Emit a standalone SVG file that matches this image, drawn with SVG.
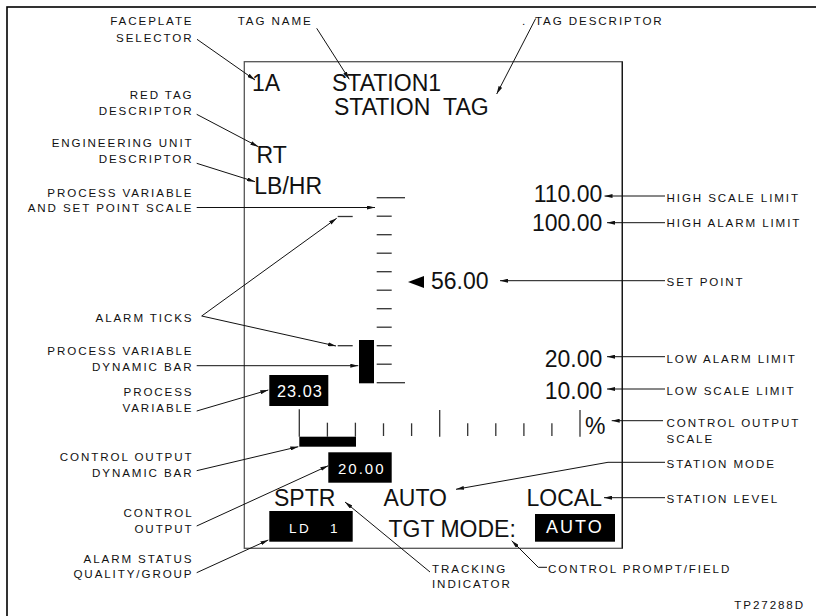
<svg xmlns="http://www.w3.org/2000/svg" width="816" height="616" viewBox="0 0 816 616">
<defs>
<marker id="ah" viewBox="0 0 8 4" refX="8" refY="2" markerWidth="8" markerHeight="4" markerUnits="userSpaceOnUse" orient="auto">
<path d="M0,0 L8,2 L0,4 z" fill="#111"/>
</marker>
<style>
.lbl{font-family:"Liberation Sans",Arial,sans-serif;font-size:11.6px;letter-spacing:1.9px;fill:#111}
.end{text-anchor:end}
.big{font-family:"Liberation Sans",Arial,sans-serif;font-size:23px;fill:#111}
.inv{font-family:"Liberation Sans",Arial,sans-serif;fill:#fff}
.con{fill:none;stroke:#111;stroke-width:1;marker-end:url(#ah)}
.tick{stroke:#333;stroke-width:1.3;fill:none}
.blk{fill:#000}
</style>
</defs>
<rect x="0" y="0" width="816" height="616" fill="#fff"/>
<rect x="7" y="7" width="830" height="630" fill="none" stroke="#000" stroke-width="1.6"/>

<g id="faceplate">
<rect x="244.3" y="61.7" width="378" height="486.6" fill="none" stroke="#555" stroke-width="1.3"/>
<line x1="622.3" y1="61.7" x2="622.3" y2="548.3" stroke="#111" stroke-width="1.2"/>
</g>

<g id="faceplate-selector-value"><text class="big" x="252" y="90.7">1A</text></g>
<g id="tag-name-value"><text class="big" x="332" y="90.7">STATION1</text></g>
<g id="tag-descriptor-value"><text class="big" x="334" y="115">STATION&#160;&#160;TAG</text></g>
<g id="red-tag-value"><text class="big" x="256.5" y="163">RT</text></g>
<g id="eu-value"><text class="big" x="254.3" y="194">LB/HR</text></g>

<g id="pv-scale">
<line class="tick" x1="376.7" y1="197.7" x2="405" y2="197.7"/>
<line class="tick" x1="376.7" y1="216.2" x2="391.7" y2="216.2"/>
<line class="tick" x1="376.7" y1="234.7" x2="391.7" y2="234.7"/>
<line class="tick" x1="376.7" y1="253.2" x2="391.7" y2="253.2"/>
<line class="tick" x1="376.7" y1="271.7" x2="391.7" y2="271.7"/>
<line class="tick" x1="376.7" y1="290.2" x2="391.7" y2="290.2"/>
<line class="tick" x1="376.7" y1="308.7" x2="391.7" y2="308.7"/>
<line class="tick" x1="376.7" y1="327.2" x2="391.7" y2="327.2"/>
<line class="tick" x1="376.7" y1="345.7" x2="391.7" y2="345.7"/>
<line class="tick" x1="376.7" y1="364.2" x2="391.7" y2="364.2"/>
<line class="tick" x1="376.7" y1="382.7" x2="405" y2="382.7"/>
</g>
<g id="alarm-ticks">
<line class="tick" x1="337.7" y1="216.5" x2="352.7" y2="216.5"/>
<line class="tick" x1="337.7" y1="345.7" x2="352.7" y2="345.7"/>
</g>
<g id="pv-bar"><rect class="blk" x="359" y="340" width="15" height="43.3"/></g>

<g id="scale-values">
<text class="big end" x="602.3" y="201.7">110.00</text>
<text class="big end" x="602.3" y="230.7">100.00</text>
<text class="big end" x="602.3" y="366.7">20.00</text>
<text class="big end" x="602.3" y="399">10.00</text>
</g>
<g id="set-point-value">
<polygon points="408,282 424,276 424,288" fill="#000"/>
<text class="big" x="431" y="289">56.00</text>
</g>

<g id="pv-value">
<rect class="blk" x="269.3" y="375" width="59" height="31"/>
<text class="inv" x="277" y="396.7" font-size="16.3" letter-spacing="1">23.03</text>
</g>

<g id="co-scale">
<line class="tick" x1="299.3" y1="409.3" x2="299.3" y2="436.7"/>
<line class="tick" x1="327.4" y1="422.7" x2="327.4" y2="436.7"/>
<line class="tick" x1="355.4" y1="422.7" x2="355.4" y2="436.7"/>
<line class="tick" x1="383.5" y1="423.3" x2="383.5" y2="436"/>
<line class="tick" x1="411.6" y1="423.3" x2="411.6" y2="436"/>
<line class="tick" x1="439.7" y1="410" x2="439.7" y2="436.7"/>
<line class="tick" x1="467.7" y1="423.3" x2="467.7" y2="436"/>
<line class="tick" x1="495.8" y1="423.3" x2="495.8" y2="436"/>
<line class="tick" x1="523.9" y1="423.3" x2="523.9" y2="436"/>
<line class="tick" x1="551.9" y1="423.3" x2="551.9" y2="436"/>
<line class="tick" x1="580" y1="410" x2="580" y2="436.7"/>
<text class="big" x="585" y="434.3">%</text>
</g>
<g id="co-bar"><rect class="blk" x="299.3" y="436.7" width="56.7" height="10"/></g>

<g id="co-value">
<rect class="blk" x="328.3" y="452.3" width="63.4" height="30.4"/>
<text class="inv" x="338" y="474" font-size="15" letter-spacing="2">20.00</text>
</g>

<g id="tracking-value"><text class="big" x="274" y="506">SPTR</text></g>
<g id="mode-value"><text class="big" x="383.5" y="506">AUTO</text></g>
<g id="level-value"><text class="big end" x="602" y="506">LOCAL</text></g>

<g id="alarm-status-value">
<rect class="blk" x="269.3" y="511" width="83.4" height="30.7"/>
<text class="inv" x="289" y="532.7" font-size="13.5" letter-spacing="2.5">LD&#160;&#160;&#160;1</text>
</g>

<g id="control-prompt-value">
<text class="big" x="388.5" y="536.7">TGT MODE:</text>
<rect class="blk" x="535" y="514" width="80" height="27.7"/>
<text class="inv" x="546" y="533.3" font-size="18" letter-spacing="2">AUTO</text>
</g>

<g id="lbl-faceplate-selector"><text class="lbl end" x="193.5" y="25">FACEPLATE</text><text class="lbl end" x="193.5" y="41.7">SELECTOR</text></g>
<g id="lbl-tag-name"><text class="lbl" x="237.7" y="25">TAG NAME</text></g>
<g id="lbl-tag-descriptor"><text class="lbl" x="522" y="25">.</text><text class="lbl" x="535" y="25">TAG DESCRIPTOR</text></g>
<g id="lbl-red-tag"><text class="lbl end" x="193.5" y="99.3">RED TAG</text><text class="lbl end" x="193.5" y="115">DESCRIPTOR</text></g>
<g id="lbl-eu"><text class="lbl end" x="193.5" y="146.7">ENGINEERING UNIT</text><text class="lbl end" x="193.5" y="163">DESCRIPTOR</text></g>
<g id="lbl-pv-scale"><text class="lbl end" x="193.5" y="196.7">PROCESS VARIABLE</text><text class="lbl end" x="193.5" y="212.3">AND SET POINT SCALE</text></g>
<g id="lbl-alarm-ticks"><text class="lbl end" x="193.5" y="321.7">ALARM TICKS</text></g>
<g id="lbl-pv-bar"><text class="lbl end" x="193.5" y="355">PROCESS VARIABLE</text><text class="lbl end" x="193.5" y="370.7">DYNAMIC BAR</text></g>
<g id="lbl-pv"><text class="lbl end" x="193.5" y="395.7">PROCESS</text><text class="lbl end" x="193.5" y="411.7">VARIABLE</text></g>
<g id="lbl-co-bar"><text class="lbl end" x="193.5" y="461">CONTROL OUTPUT</text><text class="lbl end" x="193.5" y="476.7">DYNAMIC BAR</text></g>
<g id="lbl-co"><text class="lbl end" x="193.5" y="517.3">CONTROL</text><text class="lbl end" x="193.5" y="532.7">OUTPUT</text></g>
<g id="lbl-alarm-status"><text class="lbl end" x="193.5" y="563.3">ALARM STATUS</text><text class="lbl end" x="193.5" y="578.3">QUALITY/GROUP</text></g>
<g id="lbl-high-scale"><text class="lbl" x="666.5" y="201.5">HIGH SCALE LIMIT</text></g>
<g id="lbl-high-alarm"><text class="lbl" x="666.5" y="227.3">HIGH ALARM LIMIT</text></g>
<g id="lbl-set-point"><text class="lbl" x="666.5" y="286">SET POINT</text></g>
<g id="lbl-low-alarm"><text class="lbl" x="666.5" y="363.3">LOW ALARM LIMIT</text></g>
<g id="lbl-low-scale"><text class="lbl" x="666.5" y="395">LOW SCALE LIMIT</text></g>
<g id="lbl-co-scale"><text class="lbl" x="666.5" y="426.7">CONTROL OUTPUT</text><text class="lbl" x="666.5" y="442.7">SCALE</text></g>
<g id="lbl-station-mode"><text class="lbl" x="666.5" y="468.3">STATION MODE</text></g>
<g id="lbl-station-level"><text class="lbl" x="666.5" y="502.7">STATION LEVEL</text></g>
<g id="lbl-tracking"><text class="lbl" x="432" y="572.7">TRACKING</text><text class="lbl" x="432" y="588.3">INDICATOR</text></g>
<g id="lbl-control-prompt"><text class="lbl" x="548" y="572.7">CONTROL PROMPT/FIELD</text></g>
<g id="figure-id"><text class="lbl end" x="805" y="609" letter-spacing="0.5">TP27288D</text></g>

<g id="connectors">
<path class="con" d="M197,39.3 L255,80"/>
<path class="con" d="M316.7,28.3 L349.3,79.3"/>
<path class="con" d="M535.7,18.5 L496.7,94"/>
<path class="con" d="M196.7,114.3 L258.3,146.7"/>
<path class="con" d="M196.7,163.3 L255,181.7"/>
<path class="con" d="M196.7,207.5 L375,207.5"/>
<path class="con" d="M201.7,316 L336.7,218.3"/>
<path class="con" d="M201.7,316 L336,346"/>
<path class="con" d="M196.7,365.7 L358.3,365.7"/>
<path class="con" d="M196.7,411 L268.3,390"/>
<path class="con" d="M196.7,470.7 L298.3,446.7"/>
<path class="con" d="M196.7,526 L328.3,465.7"/>
<path class="con" d="M196.7,572.7 L268.3,540"/>
<path class="con" d="M430,572 L345,502"/>
<path class="con" d="M547,567.3 L538.3,567.3 L511.7,540.7"/>
<path class="con" d="M665,196 L604.5,196"/>
<path class="con" d="M665,222.7 L607,222.7"/>
<path class="con" d="M665,280.7 L500,280.7"/>
<path class="con" d="M665,356.7 L607,356.7"/>
<path class="con" d="M665,389 L607,389"/>
<path class="con" d="M663,420.7 L611.7,420.7"/>
<path class="con" d="M665,462.3 L608,462.3 L456,489.3"/>
<path class="con" d="M665,497.7 L604,497.7"/>
</g>
</svg>
